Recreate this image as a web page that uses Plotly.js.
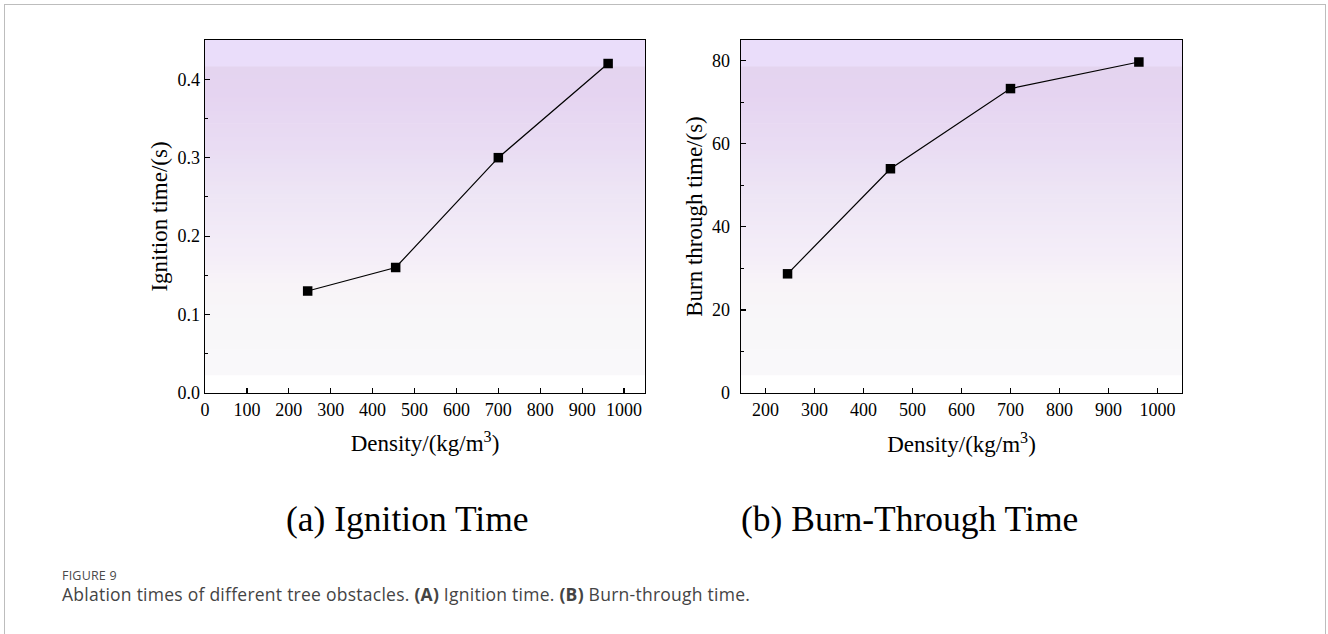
<!DOCTYPE html>
<html>
<head>
<meta charset="utf-8">
<script src="https://cdn.plot.ly/plotly-3.0.1.min.js"></script>
<style>
  html, body { margin: 0; padding: 0; background: #fff; }
  #wrap { position: relative; width: 1328px; height: 634px; overflow: hidden; }
  #frame { position: absolute; left: 4px; top: 4px; width: 1322px; height: 640px;
           border-left: 1px solid #bdbdbd; border-top: 1px solid #bdbdbd; border-right: 1px solid #bdbdbd; box-sizing: border-box; }
  #chart { position: absolute; left: 0; top: 0; width: 1328px; height: 634px; }
  #cap1 { position: absolute; left: 62px; top: 567px; font-family: "Open Sans", sans-serif; font-size: 12.5px; color: #4a4a4a; letter-spacing: 0.2px; }
  #cap2 { position: absolute; left: 62px; top: 582px; font-family: "Open Sans", sans-serif; font-size: 17.5px; color: #444; letter-spacing: 0.25px; white-space: nowrap; }
</style>
</head>
<body>
<div id="wrap">
  <div id="chart"></div>
  <div id="frame"></div>
  <div id="cap1">FIGURE 9</div>
  <div id="cap2">Ablation times of different tree obstacles. <b>(A)</b> Ignition time. <b>(B)</b> Burn-through time.</div>
</div>
<script>
// ---- data ----
const density = [245, 455, 700, 962];
const ignitionTime = [0.13, 0.16, 0.30, 0.42];
const burnThroughTime = [28.7, 54.0, 73.3, 79.7];
const panelTitles = ["(a) Ignition Time", "(b) Burn-Through Time"];
const yTitles = ["Ignition time/(s)", "Burn through time/(s)"];
const xTitle = "Density/(kg/m<sup>3</sup>)";

// ---- background gradient (style) ----
const stops = [
  [0.00, [255,255,255]],
  [0.055, [255,255,255]],
  [0.056, [249,248,250]],
  [0.20, [248,247,249]],
  [0.30, [248,244,248]],
  [0.40, [244,237,248]],
  [0.55, [238,230,245]],
  [0.70, [233,220,243]],
  [0.85, [229,212,241]],
  [0.924, [228,212,239]],
  [0.925, [234,221,250]],
  [1.00, [234,221,250]]
];
function colAt(t) {
  for (let i = 0; i < stops.length - 1; i++) {
    const [a, ca] = stops[i], [b, cb] = stops[i+1];
    if (t >= a && t <= b) {
      const f = (b - a) === 0 ? 0 : (t - a) / (b - a);
      const c = ca.map((v, k) => Math.round(v + (cb[k] - v) * f));
      return `rgb(${c[0]},${c[1]},${c[2]})`;
    }
  }
  return 'rgb(255,255,255)';
}
const shapes = [];
const N = 80;
["x", "x2"].forEach((xa, idx) => {
  const ya = idx === 0 ? "y" : "y2";
  for (let i = 0; i < N; i++) {
    const y0 = i / N, y1 = (i + 1) / N;
    shapes.push({type: "rect", xref: xa + " domain", yref: ya + " domain",
      x0: 0, x1: 1, y0: y0, y1: y1 + 0.002, fillcolor: colAt((y0 + y1) / 2),
      line: {width: 0}, layer: "below"});
  }
});

const serif = "Liberation Serif, Times New Roman, serif";
const tickFont = {family: serif, size: 18, color: "#000"};
const titleFont = {family: serif, size: 23, color: "#000"};

const W = 1328, H = 634;
const dom = (a, b) => [a / W, b / W];
const ydom = [1 - 393 / H, 1 - 40 / H];

const axBase = {
  showline: true, mirror: true, linecolor: "#000", linewidth: 1.3,
  ticks: "inside", ticklen: 5, tickwidth: 1.2, tickcolor: "#000",
  showgrid: false, zeroline: false, tickfont: tickFont
};

const traces = [
  {x: density, y: ignitionTime, xaxis: "x", yaxis: "y", type: "scatter", mode: "lines+markers",
   line: {color: "#000", width: 1.2}, marker: {symbol: "square", size: 9.5, color: "#000"}},
  {x: density, y: burnThroughTime, xaxis: "x2", yaxis: "y2", type: "scatter", mode: "lines+markers",
   line: {color: "#000", width: 1.2}, marker: {symbol: "square", size: 9.5, color: "#000"}}
];

const layout = {
  width: W, height: H,
  margin: {l: 0, r: 0, t: 0, b: 0},
  paper_bgcolor: "rgba(0,0,0,0)", plot_bgcolor: "rgba(0,0,0,0)",
  showlegend: false,
  shapes: shapes,
  xaxis: Object.assign({}, axBase, {domain: dom(205, 645), anchor: "y", range: [0, 1050],
    tickvals: [0,100,200,300,400,500,600,700,800,900,1000],
    title: {text: xTitle, font: titleFont, standoff: 16}}),
  yaxis: Object.assign({}, axBase, {domain: ydom, anchor: "x", range: [0, 0.45],
    tickvals: [0, 0.1, 0.2, 0.3, 0.4], ticktext: ["0.0","0.1","0.2","0.3","0.4"],
    minor: {ticks: "inside", ticklen: 3, tickcolor: "#000", tickvals: [0.05,0.15,0.25,0.35]},
    ticklabelstandoff: 0,
    title: {text: yTitles[0], font: titleFont, standoff: 3}}),
  xaxis2: Object.assign({}, axBase, {domain: dom(741, 1182), anchor: "y2", range: [150, 1050],
    tickvals: [200,300,400,500,600,700,800,900,1000],
    title: {text: xTitle, font: titleFont, standoff: 17}}),
  yaxis2: Object.assign({}, axBase, {domain: ydom, anchor: "x2", range: [0, 85],
    tickvals: [0, 20, 40, 60, 80],
    minor: {ticks: "inside", ticklen: 3, tickcolor: "#000", tickvals: [10,30,50,70]},
    ticklabelstandoff: 6,
    title: {text: yTitles[1], font: titleFont, standoff: 3}}),
  annotations: [
    {text: panelTitles[0], xref: "paper", yref: "paper", x: 407 / W, y: 1 - 519 / H,
     xanchor: "center", yanchor: "middle", showarrow: false, font: {family: serif, size: 35.5, color: "#000"}},
    {text: panelTitles[1], xref: "paper", yref: "paper", x: 909 / W, y: 1 - 519 / H,
     xanchor: "center", yanchor: "middle", showarrow: false, font: {family: serif, size: 35.5, color: "#000"}}
  ]
};

Plotly.newPlot("chart", traces, layout, {displayModeBar: false, staticPlot: true});
</script>
</body>
</html>
